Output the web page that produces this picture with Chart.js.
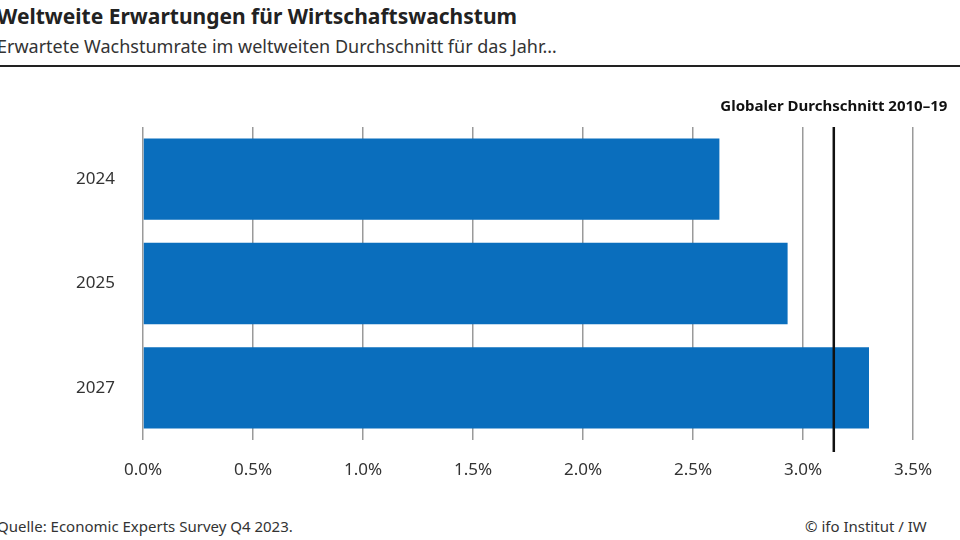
<!DOCTYPE html>
<html><head><meta charset="utf-8">
<script src="https://cdn.jsdelivr.net/npm/chart.js@4"></script>
<style>
body{margin:0;width:960px;height:540px;overflow:hidden;background:#fff;font-family:"Noto Sans",sans-serif;color:#222;position:relative}
.t{position:absolute;white-space:nowrap}
#c{position:absolute;left:0;top:0}
</style></head><body>
<div class="t" style="left:-3px;top:2px;font-size:21px;font-weight:bold">Weltweite Erwartungen für Wirtschaftswachstum</div>
<div class="t" style="left:-3px;top:34px;font-size:18px;color:#333">Erwartete Wachstumrate im weltweiten Durchschnitt für das Jahr…</div>
<div style="position:absolute;left:0;top:65px;width:960px;height:2px;background:#222"></div>
<div class="t" style="left:-3px;top:516px;font-size:15px;color:#333">Quelle: Economic Experts Survey Q4 2023.</div>
<div class="t" style="left:805px;top:516px;font-size:15px;color:#333">© ifo Institut / IW</div>
<canvas id="c" width="960" height="540"></canvas>
<script>
const categories=["2024","2025","2027"];
const values=[2.62,2.93,3.30];
const avgValue=3.14;
const avgLabel="Globaler Durchschnitt 2010–19";
const ticks=[0,0.5,1,1.5,2,2.5,3,3.5];
const avgPlugin={id:'avg',afterDatasetsDraw(ch){
 const x=ch.scales.x.getPixelForValue(avgValue),a=ch.chartArea,g=ch.ctx;
 g.save();g.strokeStyle='#111';g.lineWidth=2.5;g.beginPath();g.moveTo(x,a.top);g.lineTo(x,a.bottom+12);g.stroke();
 g.font='bold 15px "Noto Sans"';g.fillStyle='#111';g.textAlign='center';g.textBaseline='middle';g.fillText(avgLabel,x,a.top-20);g.restore();}};
new Chart(document.getElementById('c'),{type:'bar',
 data:{labels:categories,datasets:[{data:values,backgroundColor:'#0a6ebd',barPercentage:0.78,categoryPercentage:1}]},
 options:{indexAxis:'y',responsive:false,animation:false,
 layout:{padding:{top:127,bottom:40,right:47,left:0}},
 plugins:{legend:{display:false},tooltip:{enabled:false}},
 scales:{
  x:{min:0,max:3.5,afterBuildTicks(s){s.ticks=ticks.map(v=>({value:v}));},
   afterFit(s){s.height=60;},
   grid:{color:'#9a9a9a',lineWidth:1.5,drawTicks:false},border:{display:false},
   ticks:{padding:20,color:'#333',font:{size:17,family:'"Noto Sans"'},callback:v=>v.toFixed(1)+'%'}},
  y:{afterFit(s){s.width=143;},grid:{display:false},border:{display:false},
   ticks:{padding:20,color:'#333',font:{size:17,family:'"Noto Sans"'}}}
 }},plugins:[avgPlugin]});
</script></body></html>
